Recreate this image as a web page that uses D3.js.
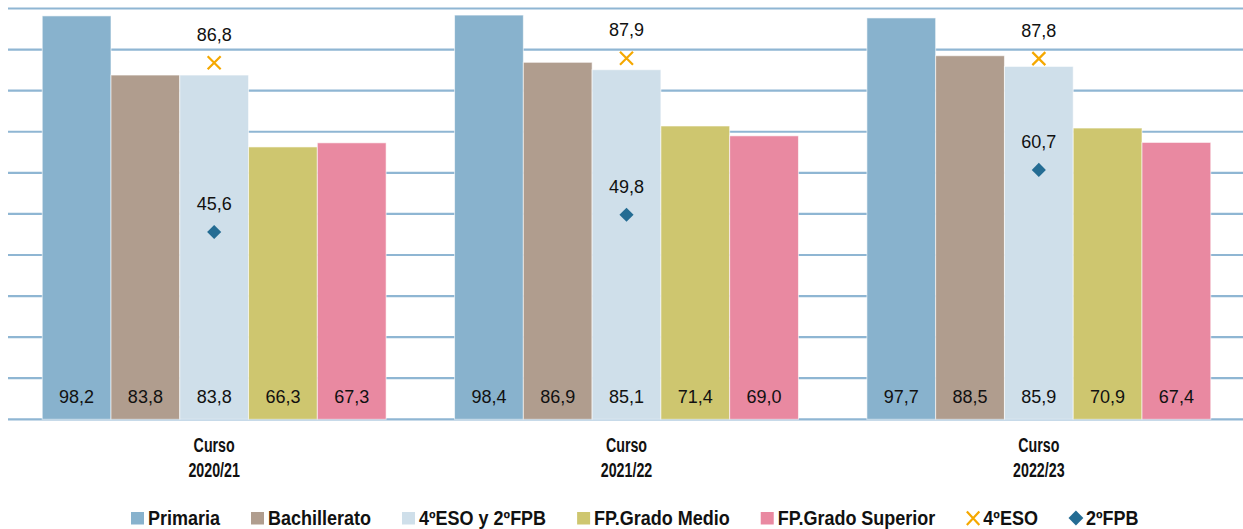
<!DOCTYPE html>
<html>
<head>
<meta charset="utf-8">
<script src="https://cdn.jsdelivr.net/npm/d3@7"></script>
<style>
  body { margin: 0; background: #fff; }
  svg { display: block; }
  .num { font-family: "Liberation Sans", Arial, sans-serif; font-size: 18px; fill: #111; }
  .narrow { font-family: "Liberation Sans", Arial, sans-serif; fill: #111; }
</style>
</head>
<body>
<div id="chart"></div>
<script>
// datos
var cursos = ["Curso\n2020/21", "Curso\n2021/22", "Curso\n2022/23"];
var series = ["Primaria", "Bachillerato", "4ºESO y 2ºFPB", "FP.Grado Medio", "FP.Grado Superior"];
var primaria = [98.2, 98.4, 97.7];
var bachillerato = [83.8, 86.9, 88.5];
var eso4fpb2 = [83.8, 85.1, 85.9];
var fpMedio = [66.3, 71.4, 70.9];
var fpSuperior = [67.3, 69.0, 67.4];
var eso4 = [86.8, 87.9, 87.8];
var fpb2 = [45.6, 49.8, 60.7];
var yTicks = [0, 10, 20, 30, 40, 50, 60, 70, 80, 90, 100];

var colores = ["#88b2cd", "#b09d8e", "#cfdfea", "#cec66f", "#e989a1"];
var valores = [primaria, bachillerato, eso4fpb2, fpMedio, fpSuperior];

var width = 1243, height = 529;
var fmt = function(v) { return d3.format(".1f")(v).replace(".", ","); };

var svg = d3.select("#chart").append("svg")
    .attr("width", width)
    .attr("height", height);

var y = d3.scaleLinear().domain([0, 100]).range([419.3, 8.5]);

var x0 = d3.scaleBand()
    .domain(cursos)
    .range([8, 1245])
    .paddingInner(0.166)
    .paddingOuter(0.083);

var x1 = d3.scaleBand()
    .domain(series)
    .range([0, x0.bandwidth()]);

// rejilla
svg.append("g").selectAll("line")
    .data(yTicks)
    .enter()
    .append("line")
    .attr("x1", 8)
    .attr("x2", width)
    .attr("y1", function(d) { return y(d); })
    .attr("y2", function(d) { return y(d); })
    .attr("stroke", "#8fb6d3")
    .attr("stroke-width", 2.2);

// barras
var grupos = svg.append("g").selectAll("g")
    .data(cursos)
    .enter()
    .append("g")
    .attr("transform", function(d) { return "translate(" + x0(d) + ",0)"; });

grupos.selectAll("rect")
    .data(function(d, i) {
        return series.map(function(s, j) { return { serie: s, valor: valores[j][i], color: colores[j] }; });
    })
    .enter()
    .append("rect")
    .attr("x", function(d) { return x1(d.serie); })
    .attr("y", function(d) { return y(d.valor); })
    .attr("width", x1.bandwidth())
    .attr("height", function(d) { return y(0) - y(d.valor); })
    .attr("fill", function(d) { return d.color; })
    .attr("stroke", "#ffffff")
    .attr("stroke-opacity", 0.6)
    .attr("stroke-width", 1);

grupos.selectAll("text.num")
    .data(function(d, i) {
        return series.map(function(s, j) { return { serie: s, valor: valores[j][i] }; });
    })
    .enter()
    .append("text")
    .attr("class", "num")
    .attr("text-anchor", "middle")
    .attr("x", function(d) { return x1(d.serie) + x1.bandwidth() / 2; })
    .attr("y", y(0) - 16)
    .text(function(d) { return fmt(d.valor); });

// marcadores 4ºESO y 2ºFPB sobre la barra central
var cx = function(i) { return x0(cursos[i]) + x1("4ºESO y 2ºFPB") + x1.bandwidth() / 2; };

var cruz = svg.append("g").selectAll("g")
    .data(eso4)
    .enter()
    .append("g")
    .attr("transform", function(d, i) { return "translate(" + cx(i) + "," + y(d) + ")"; });
cruz.append("path")
    .attr("d", "M-6.5,-6.5L6.5,6.5M-6.5,6.5L6.5,-6.5")
    .attr("stroke", "#f5a800")
    .attr("stroke-width", 2.2)
    .attr("fill", "none");
cruz.append("text")
    .attr("class", "num")
    .attr("text-anchor", "middle")
    .attr("y", -22)
    .text(function(d) { return fmt(d); });

var rombo = svg.append("g").selectAll("g")
    .data(fpb2)
    .enter()
    .append("g")
    .attr("transform", function(d, i) { return "translate(" + cx(i) + "," + y(d) + ")"; });
rombo.append("path")
    .attr("d", d3.symbol(d3.symbolSquare, 100))
    .attr("transform", "rotate(45)")
    .attr("fill", "#246c93");
rombo.append("text")
    .attr("class", "num")
    .attr("text-anchor", "middle")
    .attr("y", -22)
    .text(function(d) { return fmt(d); });

// etiquetas del eje x (letra estrecha simulada con escala horizontal)
var etiquetas = svg.append("g").selectAll("g")
    .data(cursos)
    .enter()
    .append("g")
    .attr("transform", function(d) { return "translate(" + (x0(d) + x0.bandwidth() / 2) + ",452) scale(0.73,1)"; })
    .append("text")
    .attr("class", "narrow")
    .attr("font-size", "19.5px")
    .attr("font-weight", "bold")
    .attr("text-anchor", "middle");
etiquetas.selectAll("tspan")
    .data(function(d) { return d.split("\n"); })
    .enter()
    .append("tspan")
    .attr("x", 0)
    .attr("dy", function(d, i) { return i ? 25 : 0; })
    .text(function(d) { return d; });

// leyenda
var leyenda = series.map(function(s, j) { return { nombre: s, tipo: "rect", color: colores[j] }; })
    .concat([{ nombre: "4ºESO", tipo: "x", color: "#f5a800" }, { nombre: "2ºFPB", tipo: "rombo", color: "#246c93" }]);

var escala = 0.9;
var lx = 131;
var lg = svg.append("g");
leyenda.forEach(function(d) {
    var g = lg.append("g").attr("transform", "translate(" + lx + ",0)");
    if (d.tipo === "rect") {
        g.append("rect").attr("x", 0).attr("y", 512).attr("width", 13).attr("height", 12.5).attr("fill", d.color);
    } else if (d.tipo === "x") {
        g.append("path").attr("d", "M0.5,511.5L13,525M0.5,525L13,511.5")
            .attr("stroke", d.color).attr("stroke-width", 2.2).attr("fill", "none");
    } else {
        g.append("path").attr("d", d3.symbol(d3.symbolSquare, 110))
            .attr("transform", "translate(7,518) rotate(45)")
            .attr("fill", d.color);
    }
    var t = g.append("g")
        .attr("transform", "translate(17,525) scale(" + escala + ",1)")
        .append("text")
        .attr("class", "narrow")
        .attr("font-size", "20px")
        .attr("font-weight", "bold")
        .text(d.nombre);
    lx += 17 + t.node().getComputedTextLength() * escala + 31;
});
</script>
</body>
</html>
